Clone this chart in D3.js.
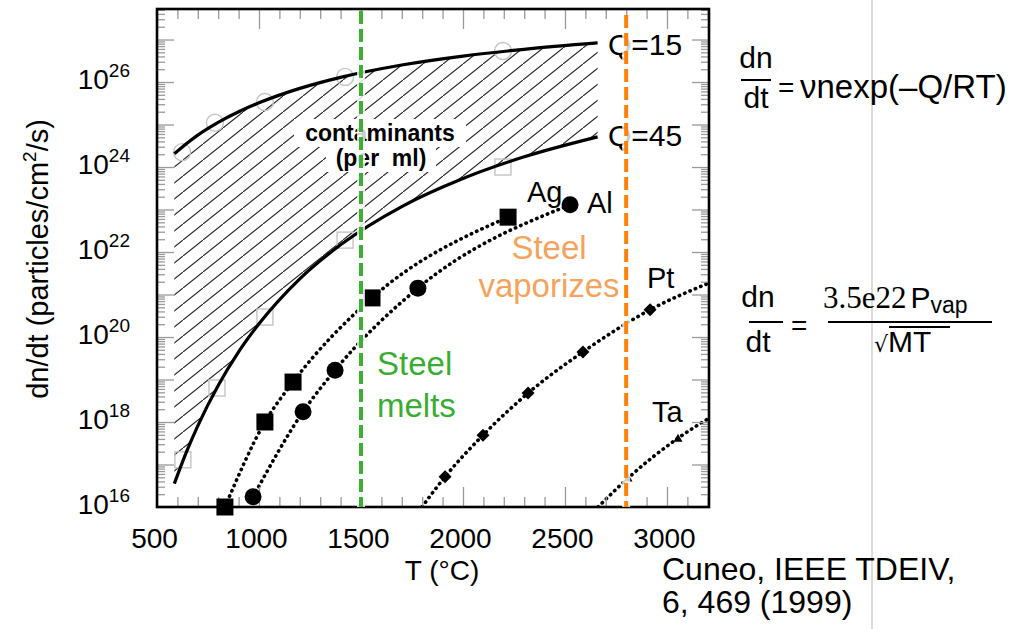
<!DOCTYPE html>
<html>
<head>
<meta charset="utf-8">
<script src="https://cdn.jsdelivr.net/npm/d3@7"></script>
<style>
  body { margin: 0; background: #fff; }
  svg { display: block; font-family: "Liberation Sans", Arial, Helvetica, sans-serif; }
</style>
</head>
<body>
<svg id="chart" width="1027" height="629"></svg>
<script>
// Temperature grid (°C) shared by the two contamination envelopes
const envelopeT = [585, 650, 700, 800, 900, 1000, 1200, 1400, 1700, 2000, 2300, 2660];
// log10 of dn/dt (particles/cm²/s) for the two activation energies
const q15Rate = [24.31, 24.57, 24.75, 25.05, 25.30, 25.51, 25.85, 26.11, 26.40, 26.61, 26.77, 26.92];
const q45Rate = [16.55, 17.36, 17.91, 18.86, 19.65, 20.31, 21.37, 22.17, 23.07, 23.73, 24.24, 24.71];

// faint open markers lying on the envelopes
const q15MarkT = [623, 784, 1029, 1422, 2196];
const q15MarkRate = [24.35, 25.04, 25.53, 26.12, 26.73];
const q45MarkT = [627, 794, 1029, 1422, 2196];
const q45MarkRate = [17.11, 18.80, 20.47, 22.28, 24.00];

// metal evaporation rates (log10 dn/dt)
const agT = [833, 1029, 1167, 1554, 2221];
const agRate = [16.0, 18.0, 18.94, 20.92, 22.82];
const alT = [971, 1216, 1373, 1779, 2525];
const alRate = [16.24, 18.24, 19.22, 21.15, 23.11];
const ptT = [1912, 2098, 2319, 2588, 2917];
const ptRate = [16.71, 17.69, 18.68, 19.65, 20.64];
const ptTrendT = [1799, 1912, 2098, 2319, 2588, 2917, 3206];
const ptTrendRate = [16.0, 16.71, 17.69, 18.68, 19.65, 20.64, 21.27];
const taT = [2809, 3054];
const taRate = [16.68, 17.62];
const taTrendT = [2662, 2809, 3054, 3206];
const taTrendRate = [16.0, 16.68, 17.62, 18.09];

// reference temperatures for stainless steel
const steelMeltT = 1500;
const steelVaporT = 2800;

// axis ticks
const xTickValues = [500, 1000, 1500, 2000, 2500, 3000];
const yLabelExponents = [16, 18, 20, 22, 24, 26];

const svg = d3.select("#chart");
const X0 = 157, X1 = 709, Y0 = 507, Y1 = 9;

const x = d3.scaleLinear().domain([500, 3206]).range([X0, X1]);
const y = d3.scaleLog().domain([1e16, Math.pow(10, 27.718)]).range([Y0, Y1]);
const yv = e => y(Math.pow(10, e));

const zip = (a, b) => a.map((v, i) => [v, b[i]]);

const defs = svg.append("defs");
defs.append("clipPath").attr("id", "plotClip")
  .append("rect").attr("x", X0).attr("y", Y1).attr("width", X1 - X0).attr("height", Y0 - Y1);

// diagonal hatch for the contamination band
const pat = defs.append("pattern").attr("id", "hatch")
  .attr("patternUnits", "userSpaceOnUse").attr("width", 20).attr("height", 16)
  .attr("x", 3).attr("y", 0);
pat.append("path").attr("d", "M-5,20 L25,-4").attr("stroke", "#222").attr("stroke-width", 1.1);

defs.append("filter").attr("id", "soft").attr("x", "-50%").attr("width", "200%")
  .append("feGaussianBlur").attr("stdDeviation", 2.5);

const plot = svg.append("g").attr("clip-path", "url(#plotClip)");

// hatched band between the Q=15 and Q=45 curves
const bandData = envelopeT.map((t, i) => ({ t, hi: q15Rate[i], lo: q45Rate[i] }));
plot.append("path")
  .datum(bandData)
  .attr("fill", "url(#hatch)")
  .attr("d", d3.area().x(d => x(d.t)).y0(d => yv(d.lo)).y1(d => yv(d.hi)).curve(d3.curveMonotoneX));

// white backing behind the band caption
plot.append("rect").attr("x", 294).attr("y", 119).attr("width", 172).attr("height", 28).attr("fill", "#fff");
plot.append("rect").attr("x", 326).attr("y", 146).attr("width", 110).attr("height", 26).attr("fill", "#fff");

// faint open markers
plot.selectAll(".q15m").data(zip(q15MarkT, q15MarkRate)).join("circle")
  .attr("cx", d => x(d[0])).attr("cy", d => yv(d[1])).attr("r", 8.5)
  .attr("fill", "none").attr("stroke", "#c4c4c4").attr("stroke-width", 1.4);
plot.selectAll(".q45m").data(zip(q45MarkT, q45MarkRate)).join("rect")
  .attr("x", d => x(d[0]) - 8).attr("y", d => yv(d[1]) - 8).attr("width", 16).attr("height", 16)
  .attr("fill", "none").attr("stroke", "#c4c4c4").attr("stroke-width", 1.4);

// envelope curves
const lineGen = d3.line().x(d => x(d[0])).y(d => yv(d[1])).curve(d3.curveMonotoneX);
[q15Rate, q45Rate].forEach(r => {
  plot.append("path").datum(zip(envelopeT, r))
    .attr("d", lineGen).attr("fill", "none").attr("stroke", "#000").attr("stroke-width", 3.2);
});

// dotted trend lines for the metals
const dotted = (pts) => plot.append("path").datum(pts).attr("d", lineGen)
  .attr("fill", "none").attr("stroke", "#000").attr("stroke-width", 3.6)
  .attr("stroke-dasharray", "0.4,5.4").attr("stroke-linecap", "round");
dotted(zip(agT, agRate));
dotted(zip(alT, alRate));
dotted(zip(ptTrendT, ptTrendRate));
dotted(zip(taTrendT, taTrendRate));

// metal markers (drawn unclipped so the ones on the axis stay whole)
const marks = svg.append("g");
marks.selectAll(".ag").data(zip(agT, agRate)).join("rect")
  .attr("x", d => x(d[0]) - 8.5).attr("y", d => yv(d[1]) - 8.5).attr("width", 17).attr("height", 17)
  .attr("fill", "#000");
marks.selectAll(".al").data(zip(alT, alRate)).join("circle")
  .attr("cx", d => x(d[0])).attr("cy", d => yv(d[1])).attr("r", 8.5).attr("fill", "#000");
marks.selectAll(".pt").data(zip(ptT, ptRate)).join("path")
  .attr("transform", d => `translate(${x(d[0])},${yv(d[1])})`)
  .attr("d", "M0,-6.5L6.5,0L0,6.5L-6.5,0Z").attr("fill", "#000");
marks.selectAll(".ta").data(zip(taT, taRate)).join("path")
  .attr("transform", d => `translate(${x(d[0])},${yv(d[1])})`)
  .attr("d", "M0,-4.5L4.5,3.5L-4.5,3.5Z").attr("fill", "#000");

// ticks (inward on all four sides)
const tickStyle = g => {
  g.select(".domain").remove();
  g.selectAll(".tick line").attr("stroke", "#9a9a9a").attr("stroke-width", 1.3);
  g.selectAll(".tick text").remove();
};
const yMajor = d3.range(16, 28).map(e => Math.pow(10, e));
const yMinor = [];
d3.range(16, 28).forEach(e => d3.range(2, 10).forEach(k => {
  const v = k * Math.pow(10, e);
  if (v < y.domain()[1]) yMinor.push(v);
}));
const xMajorTicks = d3.range(500, 3201, 500);
const xMinorTicks = d3.range(600, 3201, 100).filter(v => v % 500 !== 0);

svg.append("g").attr("transform", `translate(${X0},0)`).call(d3.axisRight(y).tickValues(yMajor).tickSize(17)).call(tickStyle);
svg.append("g").attr("transform", `translate(${X0},0)`).call(d3.axisRight(y).tickValues(yMinor).tickSize(8)).call(tickStyle);
svg.append("g").attr("transform", `translate(${X1},0)`).call(d3.axisLeft(y).tickValues(yMajor).tickSize(17)).call(tickStyle);
svg.append("g").attr("transform", `translate(${X1},0)`).call(d3.axisLeft(y).tickValues(yMinor).tickSize(8)).call(tickStyle);
svg.append("g").attr("transform", `translate(0,${Y1})`).call(d3.axisBottom(x).tickValues(xMajorTicks).tickSize(20)).call(tickStyle);
svg.append("g").attr("transform", `translate(0,${Y1})`).call(d3.axisBottom(x).tickValues(xMinorTicks).tickSize(10)).call(tickStyle);
svg.append("g").attr("transform", `translate(0,${Y0})`).call(d3.axisTop(x).tickValues(xMajorTicks).tickSize(20)).call(tickStyle);
svg.append("g").attr("transform", `translate(0,${Y0})`).call(d3.axisTop(x).tickValues(xMinorTicks).tickSize(10)).call(tickStyle);

// tick labels
const xLab = svg.append("g").attr("transform", `translate(-3,${Y0})`)
  .call(d3.axisBottom(x).tickValues(xTickValues).tickSize(0).tickPadding(21).tickFormat(d3.format("d")));
xLab.select(".domain").remove();
xLab.selectAll("text").attr("font-size", 28).attr("fill", "#000")
  .attr("font-family", "'Liberation Sans', Arial, sans-serif");

const yLab = svg.append("g").attr("transform", `translate(${X0},0)`)
  .call(d3.axisLeft(y).tickValues(yLabelExponents.map(e => Math.pow(10, e))).tickSize(0).tickPadding(27).tickFormat(() => ""));
yLab.select(".domain").remove();
yLab.selectAll("text").each(function (d) {
  const t = d3.select(this).attr("font-size", 28).attr("fill", "#000").attr("dy", "0.22em")
    .attr("font-family", "'Liberation Sans', Arial, sans-serif");
  t.append("tspan").text("10");
  t.append("tspan").attr("font-size", 19).attr("dy", -12).text(Math.round(Math.log10(d)));
});

// frame
svg.append("rect").attr("x", X0).attr("y", Y1).attr("width", X1 - X0).attr("height", Y0 - Y1)
  .attr("fill", "none").attr("stroke", "#000").attr("stroke-width", 2.6);
svg.node().appendChild(marks.node());

// curve and band captions
const label = (tx, ty, s, size, extra) => {
  const t = svg.append("text").attr("x", tx).attr("y", ty).attr("font-size", size).attr("fill", "#000").text(s);
  if (extra) extra(t);
  return t;
};
label(608, 55, "Q=15", 30);
label(608, 146, "Q=45", 30);
label(527, 202, "Ag", 29);
label(587, 213, "Al", 29);
label(647, 288, "Pt", 29);
label(652, 422, "Ta", 29);
label(380, 141, "contaminants", 23, t => t.attr("font-weight", "bold").attr("text-anchor", "middle"));
label(381, 166, "(per\u00a0\u00a0ml)", 23, t => t.attr("font-weight", "bold").attr("text-anchor", "middle"));

// steel melting / vaporization markers
[[steelMeltT, "#3cb034", 11], [steelVaporT, "#ff8207", 15]].forEach(([t, c, top]) => {
  const xx = x(t);
  svg.append("line").attr("x1", xx).attr("x2", xx).attr("y1", top).attr("y2", Y0)
    .attr("stroke", "#cfcfcf").attr("stroke-width", 12).attr("opacity", 0.55).attr("filter", "url(#soft)");
  svg.append("line").attr("x1", xx).attr("x2", xx).attr("y1", top).attr("y2", Y0)
    .attr("stroke", "#fff").attr("stroke-width", 8).attr("opacity", 0.8);
  svg.append("line").attr("x1", xx).attr("x2", xx).attr("y1", top).attr("y2", Y0)
    .attr("stroke", c).attr("stroke-width", 4).attr("stroke-dasharray", "13,5");
});

label(549, 259, "Steel", 33, t => t.attr("fill", "#f4a35e").attr("text-anchor", "middle"));
label(549, 297, "vaporizes", 33, t => t.attr("fill", "#f4a35e").attr("text-anchor", "middle"));
label(377, 375, "Steel", 33, t => t.attr("fill", "#3aac34"));
label(377, 417, "melts", 33, t => t.attr("fill", "#3aac34"));

// axis titles
label(442, 580, "T (°C)", 28, t => t.attr("text-anchor", "middle"));
const yt = svg.append("text").attr("transform", "translate(48,259) rotate(-90)")
  .attr("text-anchor", "middle").attr("font-size", 29).attr("fill", "#000");
yt.append("tspan").text("dn/dt (particles/cm");
yt.append("tspan").attr("font-size", 19).attr("dy", -12).text("2");
yt.append("tspan").attr("dy", 12).text("/s)");

// slide divider
svg.append("line").attr("x1", 872).attr("x2", 872).attr("y1", 0).attr("y2", 629)
  .attr("stroke", "#dcdcdc").attr("stroke-width", 2);

// rate equations
label(756, 68, "dn", 30, t => t.attr("text-anchor", "middle"));
svg.append("line").attr("x1", 741).attr("x2", 771).attr("y1", 80).attr("y2", 80).attr("stroke", "#000").attr("stroke-width", 2);
label(756, 108, "dt", 30, t => t.attr("text-anchor", "middle"));
label(778, 97, "=", 28);
label(800, 98, "\u03bdnexp(\u2013Q/RT)", 33);

label(758, 307, "dn", 30, t => t.attr("text-anchor", "middle"));
svg.append("line").attr("x1", 749).attr("x2", 783).attr("y1", 322).attr("y2", 322).attr("stroke", "#000").attr("stroke-width", 2);
label(758, 352, "dt", 30, t => t.attr("text-anchor", "middle"));
label(791, 335, "=", 28);
const num = svg.append("text").attr("x", 823).attr("y", 308).attr("font-size", 31).attr("fill", "#000");
num.append("tspan").attr("font-family", "'Liberation Serif', 'Times New Roman', serif").text("3.5e22");
num.append("tspan").attr("dx", 4).attr("font-size", 30).text("P");
num.append("tspan").attr("font-size", 23).attr("dy", 5).text("vap");
svg.append("line").attr("x1", 828).attr("x2", 992).attr("y1", 322).attr("y2", 322).attr("stroke", "#000").attr("stroke-width", 2);
const den = svg.append("text").attr("x", 874).attr("y", 352).attr("font-size", 30).attr("fill", "#000");
den.append("tspan").attr("font-family", "'DejaVu Sans', sans-serif").attr("font-size", 22).text("\u221a");
den.append("tspan").text("MT");
svg.append("line").attr("x1", 889).attr("x2", 950).attr("y1", 327).attr("y2", 327).attr("stroke", "#000").attr("stroke-width", 2);

// citation
label(662, 580, "Cuneo, IEEE TDEIV,", 32);
label(662, 613, "6, 469 (1999)", 32);
</script>
</body>
</html>
